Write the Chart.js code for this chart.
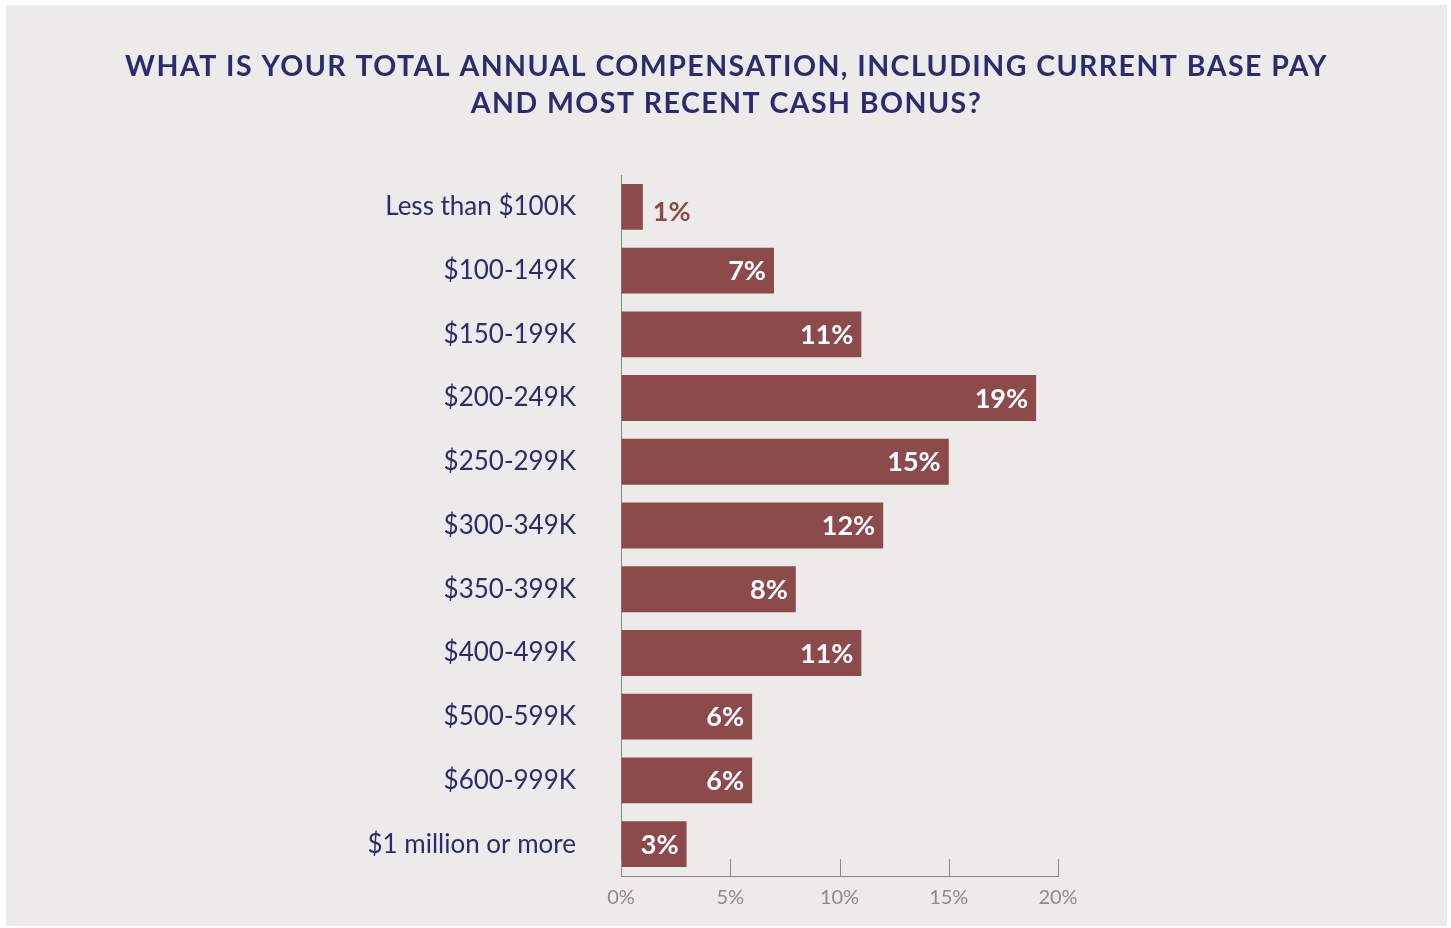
<!DOCTYPE html>
<html>
<head>
<meta charset="utf-8">
<script src="https://cdn.jsdelivr.net/npm/chart.js@4/dist/chart.umd.min.js"></script>
<style>
  html, body { margin: 0; padding: 0; background: #ffffff; }
  #panel { position: absolute; left: 6px; top: 5px; width: 1441px; height: 921px; background: #edebe9; }
  #panel canvas { display: block; }
</style>
</head>
<body>
<div id="panel"><canvas id="chart" width="1441" height="921"></canvas></div>
<script>
const titleLines = [
  'WHAT IS YOUR TOTAL ANNUAL COMPENSATION, INCLUDING CURRENT BASE PAY',
  'AND MOST RECENT CASH BONUS?'
];
const categories = [
  'Less than $100K', '$100-149K', '$150-199K', '$200-249K', '$250-299K',
  '$300-349K', '$350-399K', '$400-499K', '$500-599K', '$600-999K', '$1 million or more'
];
const shares = [1, 7, 11, 19, 15, 12, 8, 11, 6, 6, 3];
const axisTicks = [0, 5, 10, 15, 20];

const NAVY = '#2c2b6f';
const BAR = '#8d4a4b';
const AXIS = '#8a8a8a';
const FONT = 'Lato, "Open Sans", sans-serif';

// Two-line heading centred across the whole panel, slightly tracked out
const heading = {
  id: 'heading',
  afterDraw(chart) {
    const { ctx, width } = chart;
    ctx.save();
    ctx.font = 'bold 28.5px ' + FONT;
    ctx.fillStyle = NAVY;
    ctx.textAlign = 'center';
    ctx.textBaseline = 'middle';
    ctx.letterSpacing = '1.45px';
    const cx = width / 2;
    ctx.fillText(titleLines[0], cx, 61.5);
    ctx.fillText(titleLines[1], cx, 99);
    ctx.restore();
  }
};

// Short upward tick marks sitting on the x axis line
const upTicks = {
  id: 'upTicks',
  afterDatasetsDraw(chart) {
    const { ctx, scales: { x }, chartArea } = chart;
    ctx.save();
    ctx.strokeStyle = AXIS;
    ctx.lineWidth = 1;
    axisTicks.forEach(v => {
      const px = Math.round(x.getPixelForValue(v)) + 0.5;
      ctx.beginPath();
      ctx.moveTo(px, chartArea.bottom);
      ctx.lineTo(px, chartArea.bottom - 17);
      ctx.stroke();
    });
    ctx.restore();
  }
};

// Percentage labels at the end of each bar
const valueLabels = {
  id: 'valueLabels',
  afterDatasetsDraw(chart) {
    const { ctx } = chart;
    const meta = chart.getDatasetMeta(0);
    ctx.save();
    ctx.font = 'bold 27px ' + FONT;
    ctx.textBaseline = 'middle';
    meta.data.forEach((bar, i) => {
      const v = shares[i];
      const txt = v + '%';
      if (v >= 3) {
        ctx.fillStyle = '#ffffff';
        ctx.textAlign = 'right';
        ctx.fillText(txt, bar.x - 8, bar.y + 1);
      } else {
        ctx.fillStyle = BAR;
        ctx.textAlign = 'left';
        ctx.fillText(txt, bar.x + 10, bar.y + 5);
      }
    });
    ctx.restore();
  }
};

new Chart(document.getElementById('chart'), {
  type: 'bar',
  data: {
    labels: categories,
    datasets: [{
      data: shares,
      backgroundColor: BAR,
      borderWidth: 0,
      categoryPercentage: 0.72,
      barPercentage: 1.0
    }]
  },
  options: {
    indexAxis: 'y',
    responsive: false,
    animation: false,
    layout: { padding: { left: 0, right: 389, top: 170, bottom: 0 } },
    plugins: {
      legend: { display: false },
      tooltip: { enabled: false },
      title: { display: false }
    },
    scales: {
      x: {
        min: 0,
        max: 20,
        afterFit(scale) { scale.height = 50; },
        ticks: {
          stepSize: 5,
          padding: 10,
          color: '#8a8a8a',
          font: { family: FONT, size: 20 },
          callback: v => v + '%'
        },
        grid: { drawOnChartArea: false, drawTicks: false },
        border: { display: true, color: AXIS, width: 1 }
      },
      y: {
        afterFit(scale) {
          scale.width = 615;
          scale.paddingTop = 0;
          scale.paddingBottom = 0;
        },
        ticks: {
          padding: 45,
          color: NAVY,
          font: { family: FONT, size: 26 }
        },
        grid: { display: false, drawTicks: false },
        border: { display: true, color: AXIS, width: 1 }
      }
    }
  },
  plugins: [heading, upTicks, valueLabels]
});
</script>
</body>
</html>
